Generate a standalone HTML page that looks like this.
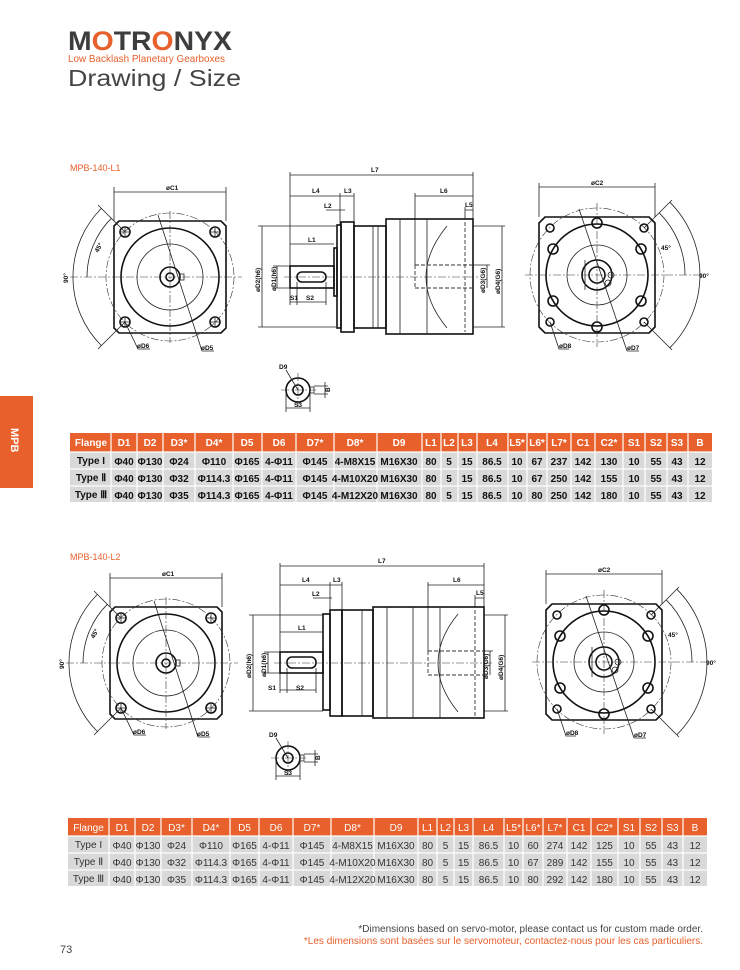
<!DOCTYPE html>
<html><head><meta charset="utf-8"><style>
html,body{margin:0;padding:0;background:#fff;}
svg{display:block;font-family:"Liberation Sans",sans-serif;}
.t{stroke:#222;stroke-width:.8;fill:none}
.k{stroke:#111;stroke-width:1.6;fill:none}
.c{stroke:#333;stroke-width:.6;fill:none;stroke-dasharray:8 2 2 2}
.d{stroke:#333;stroke-width:.9;fill:none;stroke-dasharray:4 2}
.lb{font-size:6.5px;font-weight:bold;fill:#111;font-family:"Liberation Sans Narrow","Liberation Sans",sans-serif}
.th{font-size:10px;fill:#fff;font-family:"Liberation Sans Narrow","Liberation Sans",sans-serif;text-anchor:middle}
.td{font-size:10px;fill:#111;font-weight:bold;font-family:"Liberation Sans Narrow","Liberation Sans",sans-serif;text-anchor:middle}
.td2{font-size:10px;fill:#333;font-family:"Liberation Sans Narrow","Liberation Sans",sans-serif;text-anchor:middle}
</style></head><body>
<svg width="740" height="970" viewBox="0 0 740 970" xmlns="http://www.w3.org/2000/svg">
<defs>
<g id="lv">
 <path class="k" d="M-51,-56 H51 L56,-51 V51 L51,56 H-51 L-56,51 V-51 Z"/>
 <circle class="c" r="64"/>
 <circle class="k" r="49"/>
 <circle class="t" r="33"/>
 <circle class="k" r="10"/>
 <circle class="k" r="4"/>
 <rect class="t" x="10" y="-3" width="4" height="6"/>
 <g class="k"><circle cx="-45" cy="-45" r="5"/><circle cx="45" cy="-45" r="5"/><circle cx="-45" cy="45" r="5"/><circle cx="45" cy="45" r="5"/></g>
 <g class="t"><path d="M-49,-45h8M-45,-49v8M41,-45h8M45,-49v8M-49,45h8M-45,41v8M41,45h8M45,41v8"/></g>
 <path class="c" d="M-100,0H72M0,-66V66"/>
 <path class="t" d="M-12,-62L32,74M-45,45L-32,72h12M32,74h12"/>
 <path class="t" d="M-45,-45L-72,-72M-45,45L-72,72M-68.6,-68.6A97,97 0 0 0 -68.6,68.6M-58.7,-58.7A83,83 0 0 0 -83,0"/>
 <path class="t" d="M-56,-90V-56M56,-90V-56M-56,-85H56"/>
 <text class="lb" x="-4" y="-87">øC1</text>
 <text class="lb" transform="translate(-72,-24) rotate(-60)">45°</text>
 <text class="lb" transform="translate(-102,6) rotate(-90)">90°</text>
 <text class="lb" x="-33" y="71">øD6</text>
 <text class="lb" x="31" y="73">øD5</text>
</g>
<g id="rv">
 <path class="k" d="M-52,-58 H52 L58,-52 V52 L52,58 H-52 L-58,52 V-52 Z"/>
 <circle class="c" r="67"/>
 <circle class="k" r="51"/>
 <circle class="t" r="30"/>
 <circle class="k" r="15"/>
 <circle class="k" r="8"/>
 <circle class="t" cx="14" cy="0" r="3"/><circle class="t" cx="11" cy="8" r="3"/>
 <path class="t" d="M-12,-15V15"/>
 <g class="k" stroke-width="2.5"><circle cx="0" cy="-52" r="5"/><circle cx="0" cy="52" r="5"/><circle cx="-44" cy="-26" r="5"/><circle cx="44" cy="-26" r="5"/><circle cx="-44" cy="26" r="5"/><circle cx="44" cy="26" r="5"/></g>
 <g class="k"><circle cx="-47" cy="-47" r="4"/><circle cx="47" cy="-47" r="4"/><circle cx="-47" cy="47" r="4"/><circle cx="47" cy="47" r="4"/></g>
 <path class="c" d="M-72,0H105M0,-72V72"/>
 <path class="t" d="M-18,-66L30,76M-47,47L-38,74h10M30,76h12"/>
 <path class="t" d="M47,-47L75,-75M47,47L75,75M72.8,-72.8A103,103 0 0 1 72.8,72.8M62.2,-62.2A88,88 0 0 1 88,0"/>
 <path class="t" d="M-58,-92V-58M58,-92V-58M-58,-88H58"/>
 <text class="lb" x="-6" y="-90">øC2</text>
 <text class="lb" x="64" y="-25">45°</text>
 <text class="lb" x="102" y="3">90°</text>
 <text class="lb" x="-38" y="73">øD8</text>
 <text class="lb" x="30" y="75">øD7</text>
</g>
<g id="sv">
 <circle class="k" r="12"/>
 <circle class="k" r="5"/>
 <rect class="t" x="12" y="-3" width="4" height="6"/>
 <path class="c" d="M-17,0H18M0,-17V17"/>
 <path class="t" d="M-12,-20L0,0M-12,2V22M12,2V22M-12,18H12M16,-4H30M16,4H30M27,-8V8"/>
 <text class="lb" x="-19" y="-21">D9</text>
 <text class="lb" x="-4" y="17">S3</text>
 <text class="lb" transform="translate(32,2) rotate(-90)">B</text>
</g>
</defs>

<!-- header -->
<text x="68" y="50" font-size="27" font-weight="bold" fill="#3d3d3d" textLength="164" lengthAdjust="spacingAndGlyphs">M<tspan fill="#e8602c">O</tspan>TR<tspan fill="#e8602c">O</tspan>NYX</text>
<text x="68" y="62" font-size="10.5" fill="#e8602c" textLength="157" lengthAdjust="spacingAndGlyphs">Low Backlash Planetary Gearboxes</text>
<text x="68" y="86" font-size="23" fill="#444" textLength="173" lengthAdjust="spacingAndGlyphs">Drawing / Size</text>

<!-- side tab -->
<rect x="0" y="396" width="33" height="92" fill="#e8602c"/>
<text transform="translate(11,428) rotate(90)" font-size="11" font-weight="bold" fill="#fff">MPB</text>

<!-- section 1 -->
<text x="70" y="171" font-size="9" fill="#e8602c">MPB-140-L1</text>
<use href="#lv" x="170" y="277"/>
<use href="#rv" x="597" y="275"/>
<use href="#sv" x="298" y="390"/>
<g>
 <path class="t" d="M290,172V266M473,172V219M290,175H473M290,196H354M340,193V225M354,193V222M415,193V265M415,196H473M465,207V219M465,210H473M326,210H345M290,244H334M290,288V305M297,282V305M326,282V305M290,302H326"/>
 <path class="t" d="M262,226V327M258,226H336M258,327H336M277,266V288M273,266H290M273,288H290M487,265V288M473,265H490M502,226V327M473,226H505M473,327H505"/>
 <rect class="k" x="290" y="266" width="44" height="22"/>
 <rect class="k" x="297" y="272" width="29" height="10" rx="5"/>
 <rect class="k" x="334" y="248" width="3" height="48"/>
 <rect class="k" x="337" y="225" width="4" height="103"/>
 <rect class="k" x="341" y="222" width="13" height="110"/>
 <rect class="k" x="354" y="226" width="32" height="102"/>
 <path class="t" d="M373,226V328M378,226V328"/>
 <rect class="k" x="386" y="219" width="87" height="115"/>
 <path class="t" d="M400,219V334M427,219V334"/>
 <path class="t" d="M447,226Q405,277 447,328"/>
 <path class="d" d="M465,222V332"/>
 <path class="d" d="M415,265H473M415,288H473M415,265V288"/>
 <path class="c" d="M284,277H480"/>
 <text class="lb" x="371" y="172">L7</text><text class="lb" x="312" y="193">L4</text><text class="lb" x="344" y="193">L3</text>
 <text class="lb" x="324" y="208">L2</text><text class="lb" x="308" y="242">L1</text><text class="lb" x="440" y="193">L6</text>
 <text class="lb" x="465" y="207">L5</text><text class="lb" x="290" y="300">S1</text><text class="lb" x="306" y="300">S2</text>
 <text class="lb" transform="translate(260,292) rotate(-90)">øD2(h6)</text>
 <text class="lb" transform="translate(276,291) rotate(-90)">øD1(h6)</text>
 <text class="lb" transform="translate(485,293) rotate(-90)">øD3(G6)</text>
 <text class="lb" transform="translate(500,294) rotate(-90)">øD4(G6)</text>
</g>

<!-- table 1 -->
<g>
 <rect x="70" y="433" width="642" height="19" fill="#e8602c"/>
 <rect x="70" y="452" width="642" height="50" fill="#d9d9d9"/>
 <path stroke="#fff" stroke-width="1.2" d="M111,433V502M137,433V502M163,433V502M195,433V502M233,433V502M262,433V502M296,433V502M334,433V502M377,433V502M422,433V502M441,433V502M458,433V502M477,433V502M508,433V502M527,433V502M547,433V502M571,433V502M595,433V502M623,433V502M645,433V502M667,433V502M688,433V502M70,452H712M70,469H712M70,486H712"/>
 <g class="th" font-weight="bold"><text x="91" y="446">Flange</text><text x="124" y="446">D1</text><text x="150" y="446">D2</text><text x="179" y="446">D3*</text><text x="214" y="446">D4*</text><text x="247" y="446">D5</text><text x="279" y="446">D6</text><text x="315" y="446">D7*</text><text x="355" y="446">D8*</text><text x="399" y="446">D9</text><text x="431" y="446">L1</text><text x="449" y="446">L2</text><text x="467" y="446">L3</text><text x="492" y="446">L4</text><text x="517" y="446">L5*</text><text x="537" y="446">L6*</text><text x="559" y="446">L7*</text><text x="583" y="446">C1</text><text x="609" y="446">C2*</text><text x="634" y="446">S1</text><text x="656" y="446">S2</text><text x="677" y="446">S3</text><text x="700" y="446">B</text></g>
 <g class="td"><text x="91" y="464">Type I</text><text x="124" y="465">Φ40</text><text x="150" y="465">Φ130</text><text x="179" y="465">Φ24</text><text x="214" y="465">Φ110</text><text x="247" y="465">Φ165</text><text x="279" y="465">4-Φ11</text><text x="315" y="465">Φ145</text><text x="355" y="465">4-M8X15</text><text x="399" y="465">M16X30</text><text x="431" y="465">80</text><text x="449" y="465">5</text><text x="467" y="465">15</text><text x="492" y="465">86.5</text><text x="517" y="465">10</text><text x="537" y="465">67</text><text x="559" y="465">237</text><text x="583" y="465">142</text><text x="609" y="465">130</text><text x="634" y="465">10</text><text x="656" y="465">55</text><text x="677" y="465">43</text><text x="700" y="465">12</text></g>
 <g class="td"><text x="91" y="481">Type Ⅱ</text><text x="124" y="482">Φ40</text><text x="150" y="482">Φ130</text><text x="179" y="482">Φ32</text><text x="214" y="482">Φ114.3</text><text x="247" y="482">Φ165</text><text x="279" y="482">4-Φ11</text><text x="315" y="482">Φ145</text><text x="355" y="482">4-M10X20</text><text x="399" y="482">M16X30</text><text x="431" y="482">80</text><text x="449" y="482">5</text><text x="467" y="482">15</text><text x="492" y="482">86.5</text><text x="517" y="482">10</text><text x="537" y="482">67</text><text x="559" y="482">250</text><text x="583" y="482">142</text><text x="609" y="482">155</text><text x="634" y="482">10</text><text x="656" y="482">55</text><text x="677" y="482">43</text><text x="700" y="482">12</text></g>
 <g class="td"><text x="91" y="498">Type Ⅲ</text><text x="124" y="499">Φ40</text><text x="150" y="499">Φ130</text><text x="179" y="499">Φ35</text><text x="214" y="499">Φ114.3</text><text x="247" y="499">Φ165</text><text x="279" y="499">4-Φ11</text><text x="315" y="499">Φ145</text><text x="355" y="499">4-M12X20</text><text x="399" y="499">M16X30</text><text x="431" y="499">80</text><text x="449" y="499">5</text><text x="467" y="499">15</text><text x="492" y="499">86.5</text><text x="517" y="499">10</text><text x="537" y="499">80</text><text x="559" y="499">250</text><text x="583" y="499">142</text><text x="609" y="499">180</text><text x="634" y="499">10</text><text x="656" y="499">55</text><text x="677" y="499">43</text><text x="700" y="499">12</text></g>
</g>

<!-- section 2 -->
<text x="70" y="560" font-size="9" fill="#e8602c">MPB-140-L2</text>
<use href="#lv" x="166" y="663"/>
<use href="#rv" x="604" y="662"/>
<use href="#sv" x="288" y="758"/>
<g>
 <path class="t" d="M280,563V652M484,563V607M280,566H484M280,585H342M330,582V611M342,582V610M428,582V651M428,585H484M475,595V607M475,598H484M313,598H332M280,632H323M280,673V693M287,668V693M316,668V693M280,690H316"/>
 <path class="t" d="M253,615V711M249,615H323M249,711H323M268,652V673M264,652H280M264,673H280M490,651V675M484,651H493M505,615V711M484,615H508M484,711H508"/>
 <rect class="k" x="280" y="652" width="43" height="21"/>
 <rect class="k" x="287" y="657" width="29" height="11" rx="5"/>
 <rect class="k" x="323" y="614" width="7" height="96"/>
 <rect class="k" x="330" y="610" width="12" height="106"/>
 <rect class="k" x="342" y="610" width="31" height="106"/>
 <path class="t" d="M362,610V716"/>
 <rect class="k" x="373" y="607" width="111" height="111"/>
 <path class="t" d="M387,607V718M413,607V718M440,607V718"/>
 <path class="t" d="M458,614Q418,663 458,712"/>
 <path class="d" d="M475,610V716"/>
 <path class="d" d="M428,651H484M428,675H484M428,651V675"/>
 <path class="c" d="M274,663H492"/>
 <text class="lb" x="378" y="563">L7</text><text class="lb" x="302" y="582">L4</text><text class="lb" x="333" y="582">L3</text>
 <text class="lb" x="312" y="596">L2</text><text class="lb" x="298" y="630">L1</text><text class="lb" x="453" y="582">L6</text>
 <text class="lb" x="476" y="595">L5</text><text class="lb" x="268" y="690">S1</text><text class="lb" x="296" y="690">S2</text>
 <text class="lb" transform="translate(251,678) rotate(-90)">øD2(h6)</text>
 <text class="lb" transform="translate(266,677) rotate(-90)">øD1(h6)</text>
 <text class="lb" transform="translate(488,679) rotate(-90)">øD3(G6)</text>
 <text class="lb" transform="translate(503,680) rotate(-90)">øD4(G6)</text>
</g>

<!-- table 2 -->
<g>
 <rect x="68" y="818" width="639" height="18" fill="#e8602c"/>
 <rect x="68" y="836" width="639" height="50" fill="#d9d9d9"/>
 <path stroke="#fff" stroke-width="1.2" d="M109,818V886M135,818V886M161,818V886M192,818V886M230,818V886M259,818V886M293,818V886M331,818V886M374,818V886M418,818V886M437,818V886M454,818V886M473,818V886M504,818V886M523,818V886M543,818V886M567,818V886M591,818V886M618,818V886M640,818V886M662,818V886M683,818V886M68,836H707M68,853H707M68,870H707"/>
 <g class="th"><text x="88.5" y="831">Flange</text><text x="122" y="831">D1</text><text x="148" y="831">D2</text><text x="176.5" y="831">D3*</text><text x="211" y="831">D4*</text><text x="244.5" y="831">D5</text><text x="276" y="831">D6</text><text x="312" y="831">D7*</text><text x="352.5" y="831">D8*</text><text x="396" y="831">D9</text><text x="427.5" y="831">L1</text><text x="445.5" y="831">L2</text><text x="463.5" y="831">L3</text><text x="488.5" y="831">L4</text><text x="513.5" y="831">L5*</text><text x="533" y="831">L6*</text><text x="555" y="831">L7*</text><text x="579" y="831">C1</text><text x="604.5" y="831">C2*</text><text x="629" y="831">S1</text><text x="651" y="831">S2</text><text x="672.5" y="831">S3</text><text x="695" y="831">B</text></g>
 <g class="td2"><text x="88.5" y="848">Type I</text><text x="122" y="849">Φ40</text><text x="148" y="849">Φ130</text><text x="176.5" y="849">Φ24</text><text x="211" y="849">Φ110</text><text x="244.5" y="849">Φ165</text><text x="276" y="849">4-Φ11</text><text x="312" y="849">Φ145</text><text x="352.5" y="849">4-M8X15</text><text x="396" y="849">M16X30</text><text x="427.5" y="849">80</text><text x="445.5" y="849">5</text><text x="463.5" y="849">15</text><text x="488.5" y="849">86.5</text><text x="513.5" y="849">10</text><text x="533" y="849">60</text><text x="555" y="849">274</text><text x="579" y="849">142</text><text x="604.5" y="849">125</text><text x="629" y="849">10</text><text x="651" y="849">55</text><text x="672.5" y="849">43</text><text x="695" y="849">12</text></g>
 <g class="td2"><text x="88.5" y="865">Type Ⅱ</text><text x="122" y="866">Φ40</text><text x="148" y="866">Φ130</text><text x="176.5" y="866">Φ32</text><text x="211" y="866">Φ114.3</text><text x="244.5" y="866">Φ165</text><text x="276" y="866">4-Φ11</text><text x="312" y="866">Φ145</text><text x="352.5" y="866">4-M10X20</text><text x="396" y="866">M16X30</text><text x="427.5" y="866">80</text><text x="445.5" y="866">5</text><text x="463.5" y="866">15</text><text x="488.5" y="866">86.5</text><text x="513.5" y="866">10</text><text x="533" y="866">67</text><text x="555" y="866">289</text><text x="579" y="866">142</text><text x="604.5" y="866">155</text><text x="629" y="866">10</text><text x="651" y="866">55</text><text x="672.5" y="866">43</text><text x="695" y="866">12</text></g>
 <g class="td2"><text x="88.5" y="882">Type Ⅲ</text><text x="122" y="883">Φ40</text><text x="148" y="883">Φ130</text><text x="176.5" y="883">Φ35</text><text x="211" y="883">Φ114.3</text><text x="244.5" y="883">Φ165</text><text x="276" y="883">4-Φ11</text><text x="312" y="883">Φ145</text><text x="352.5" y="883">4-M12X20</text><text x="396" y="883">M16X30</text><text x="427.5" y="883">80</text><text x="445.5" y="883">5</text><text x="463.5" y="883">15</text><text x="488.5" y="883">86.5</text><text x="513.5" y="883">10</text><text x="533" y="883">80</text><text x="555" y="883">292</text><text x="579" y="883">142</text><text x="604.5" y="883">180</text><text x="629" y="883">10</text><text x="651" y="883">55</text><text x="672.5" y="883">43</text><text x="695" y="883">12</text></g>
</g>

<!-- footnotes -->
<text x="703" y="932" font-size="10" fill="#444" text-anchor="end">*Dimensions based on servo-motor,  please contact us for custom made order.</text>
<text x="703" y="944" font-size="10" fill="#e8602c" text-anchor="end">*Les dimensions sont basées sur le servomoteur, contactez-nous pour les cas particuliers.</text>
<text x="60" y="953" font-size="11" fill="#444">73</text>
</svg>
</body></html>
